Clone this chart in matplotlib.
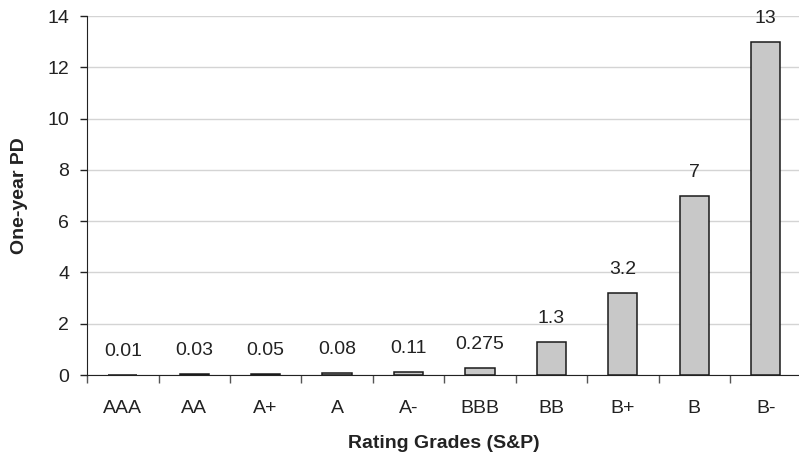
import matplotlib
matplotlib.use("Agg")
import matplotlib.pyplot as plt
import numpy as np

plt.rcParams['font.family'] = ['Liberation Sans', 'DejaVu Sans']

grades = ["AAA", "AA", "A+", "A", "A-", "BBB", "BB", "B+", "B", "B-"]
pd_values = [0.01, 0.03, 0.05, 0.08, 0.11, 0.275, 1.3, 3.2, 7, 13]
pd_labels = ["0.01", "0.03", "0.05", "0.08", "0.11", "0.275", "1.3", "3.2", "7", "13"]

fig = plt.figure(figsize=(7.99, 4.59), dpi=100)
ax = fig.add_axes([0.109, 0.183, 0.894, 0.782])

x = np.arange(len(grades))
ax.bar(x, pd_values, width=0.41, color='#c8c8c8', edgecolor='#1a1a1a', linewidth=1.1, zorder=3)

# value labels above each bar
for xi, v, lab in zip(x, pd_values, pd_labels):
    ax.annotate(lab, (xi, v), xytext=(0, 19), textcoords='offset pixels',
                ha='center', va='baseline', fontsize=14, color='#222222')

ax.set_xlim(-0.5, len(grades) - 0.5)
ax.set_ylim(0, 14)
ax.set_yticks(np.arange(0, 15, 2))
ax.yaxis.grid(True, color='#d4d4d4', linewidth=1, zorder=0)
ax.set_axisbelow(True)

ax.set_xticks(x)
ax.set_xticklabels(grades, fontsize=14, color='#222222')
ax.set_xticks(np.arange(-0.5, len(grades), 1), minor=True)
ax.tick_params(axis='x', which='major', length=0, pad=18)
ax.tick_params(axis='x', which='minor', length=6, width=1, color='#555555', direction='out')
ax.tick_params(axis='y', labelsize=14, length=5, width=1, colors='#222222', direction='out', pad=8)

for s in ['top', 'right']:
    ax.spines[s].set_visible(False)
ax.spines['left'].set_color('#222222')
ax.spines['bottom'].set_color('#222222')

ax.set_xlabel("Rating Grades (S&P)", fontsize=14, fontweight='bold', color='#222222', labelpad=13)
ax.set_ylabel("One-year PD", fontsize=14, fontweight='bold', color='#222222', labelpad=14)

fig.savefig("out.png", dpi=100)
